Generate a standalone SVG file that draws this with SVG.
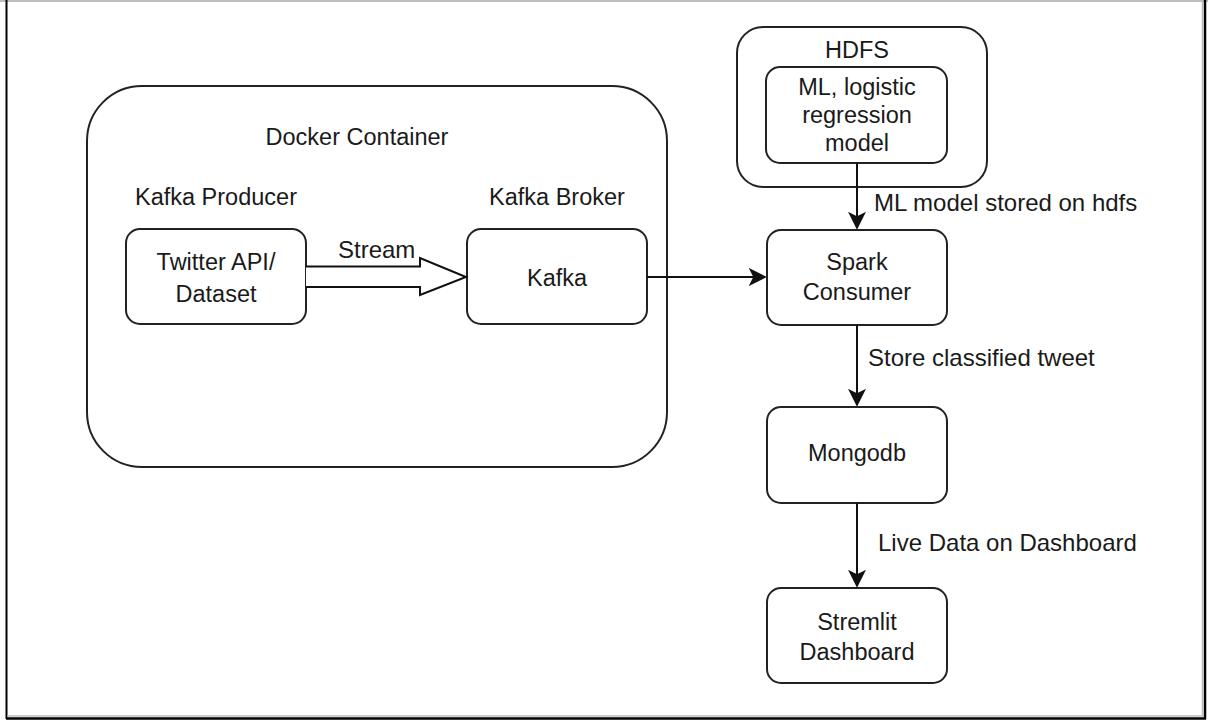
<svg xmlns="http://www.w3.org/2000/svg" width="1208" height="722" viewBox="0 0 1208 722">
<style>
  .box { fill: #ffffff; stroke: #222222; stroke-width: 2; }
  .t { font-family: "Liberation Sans", Arial, Helvetica, sans-serif; font-size: 23.5px; fill: #1a1a1a; text-anchor: middle; }
  .lbl { font-family: "Liberation Sans", Arial, Helvetica, sans-serif; font-size: 24px; fill: #1a1a1a; text-anchor: start; }
  .edge { fill: none; stroke: #111111; stroke-width: 2; }
</style>
<defs>
  <marker id="arr" viewBox="0 0 20 20" refX="18" refY="10" markerWidth="10" markerHeight="10" markerUnits="userSpaceOnUse" orient="auto">
    <path d="M0,0 L20,10 L0,20 L5,10 Z" fill="#111111"/>
  </marker>
  <marker id="arrL" viewBox="0 0 20 20" refX="18" refY="10" markerWidth="18" markerHeight="18" markerUnits="userSpaceOnUse" orient="auto">
    <path d="M0,0 L20,10 L0,20 L5,10 Z" fill="#111111"/>
  </marker>
</defs>
<rect x="0" y="0" width="1208" height="722" fill="#ffffff"/>
<g id="frame">
  <line x1="0" y1="1" x2="1208" y2="1" stroke="#bdbdbd" stroke-width="2"/>
  <line x1="6.5" y1="0" x2="6.5" y2="719" stroke="#000000" stroke-width="2"/>
  <line x1="1205" y1="0" x2="1205" y2="719" stroke="#000000" stroke-width="2.5"/>
  <line x1="1202.5" y1="0" x2="1202.5" y2="716" stroke="#bdbdbd" stroke-width="1.5"/>
  <line x1="6" y1="718.5" x2="1206" y2="718.5" stroke="#000000" stroke-width="2.5"/>
  <line x1="7.5" y1="716" x2="1203" y2="716" stroke="#bdbdbd" stroke-width="1.5"/>
</g>

<g id="docker-container">
  <rect class="box" x="87" y="86" width="580" height="381" rx="55" ry="55"/>
  <text class="t" x="357" y="145">Docker Container</text>
</g>
<g id="kafka-producer-label">
  <text class="t" x="216" y="205">Kafka Producer</text>
</g>
<g id="kafka-broker-label">
  <text class="t" x="557" y="205">Kafka Broker</text>
</g>
<g id="twitter-api">
  <rect class="box" x="126" y="229" width="180" height="95" rx="14" ry="14"/>
  <text class="t" x="216" y="270">Twitter API/</text>
  <text class="t" x="216" y="302">Dataset</text>
</g>
<g id="kafka">
  <rect class="box" x="467" y="229" width="180" height="95" rx="14" ry="14"/>
  <text class="t" x="557" y="286">Kafka</text>
</g>
<g id="hdfs">
  <rect class="box" x="737" y="27" width="250" height="160" rx="26" ry="26"/>
  <text class="t" x="857" y="58">HDFS</text>
</g>
<g id="ml-model">
  <rect class="box" x="766" y="67" width="181" height="96" rx="14" ry="14"/>
  <text class="t" x="857" y="95">ML, logistic</text>
  <text class="t" x="857" y="123">regression</text>
  <text class="t" x="857" y="151">model</text>
</g>
<g id="spark-consumer">
  <rect class="box" x="767" y="230" width="180" height="95" rx="14" ry="14"/>
  <text class="t" x="857" y="270">Spark</text>
  <text class="t" x="857" y="300">Consumer</text>
</g>
<g id="mongodb">
  <rect class="box" x="767" y="407" width="180" height="96" rx="14" ry="14"/>
  <text class="t" x="857" y="461">Mongodb</text>
</g>
<g id="stremlit-dashboard">
  <rect class="box" x="767" y="588" width="180" height="95" rx="14" ry="14"/>
  <text class="t" x="857" y="630">Stremlit</text>
  <text class="t" x="857" y="660">Dashboard</text>
</g>

<g id="connectors">
  <path class="edge" d="M306,266.5 L420,266.5 L420,258 L466,277 L420,295 L420,287 L306,287" style="fill:#ffffff;stroke-linejoin:miter"/>
  <text class="lbl" x="338" y="258">Stream</text>
  <line class="edge" x1="647" y1="277" x2="765" y2="277" marker-end="url(#arrL)"/>
  <line class="edge" x1="857" y1="163" x2="857" y2="228" marker-end="url(#arrL)"/>
  <text class="lbl" x="874" y="211">ML model stored on hdfs</text>
  <line class="edge" x1="857" y1="325" x2="857" y2="405" marker-end="url(#arrL)"/>
  <text class="lbl" x="868" y="366">Store classified tweet</text>
  <line class="edge" x1="857" y1="503" x2="857" y2="586" marker-end="url(#arrL)"/>
  <text class="lbl" x="878" y="551">Live Data on Dashboard</text>
</g>
</svg>
